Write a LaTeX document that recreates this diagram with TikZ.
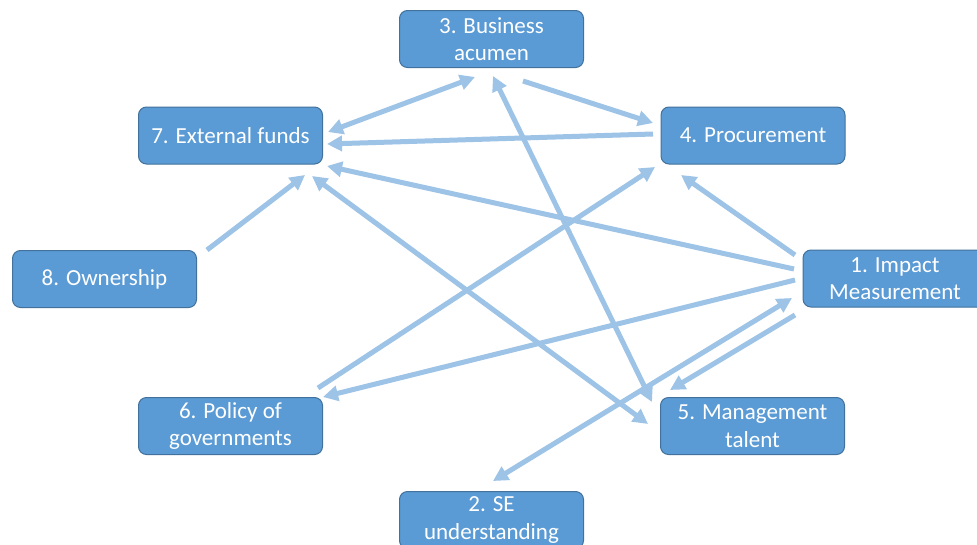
\documentclass[tikz,border=0pt]{standalone}
\usepackage{fontspec}
\setmainfont{Carlito}
\usetikzlibrary{arrows.meta}
\definecolor{boxfill}{HTML}{5B9BD5}
\definecolor{boxline}{HTML}{41719C}
\definecolor{arrowc}{HTML}{9DC3E6}
\begin{document}
\begin{tikzpicture}[x=1pt,y=-1pt,
  box/.style={draw=boxline, line width=1pt, fill=boxfill, rounded corners=8pt,
    minimum width=184pt, minimum height=57pt, inner sep=0pt, align=center,
    text=white, font=\fontsize{23}{27.5}\selectfont},
  link/.style={draw=arrowc, line width=5pt, -{Triangle[length=15pt,width=15pt]}},
  dlink/.style={draw=arrowc, line width=5pt, {Triangle[length=15pt,width=15pt]}-{Triangle[length=15pt,width=15pt]}}]
\useasboundingbox (0,0) rectangle (977,544);
\fill[white] (0,0) rectangle (977,544);
\clip (0,0) rectangle (977,544);
\node[box] (n3) at (491.5,39) {3. Business\\acumen};
\node[box] (n7) at (230.5,135.5) {7. External funds};
\node[box] (n4) at (753,135.5) {4. Procurement};
\node[box] (n8) at (104.5,279) {8. Ownership};
\node[box] (n1) at (895,278.5) {1. Impact\\Measurement};
\node[box] (n6) at (230.5,426) {6. Policy of\\governments};
\node[box] (n5) at (752.5,426) {5. Management\\talent};
\node[box] (n2) at (491.5,520) {2. SE\\understanding};
% connector end points
\coordinate (a1) at ([shift={(-16.5,38)}]n3.center);
\coordinate (a2) at ([shift={(97.5,-3.5)}]n7.center);
\coordinate (b1) at ([shift={(31.5,42)}]n3.center);
\coordinate (b2) at ([shift={(-100,-12.5)}]n4.center);
\coordinate (c1) at ([shift={(-100,-1.5)}]n4.center);
\coordinate (c2) at ([shift={(96.5,8.5)}]n7.center);
\coordinate (d1) at ([shift={(-101,-9.5)}]n1.center);
\coordinate (d2) at ([shift={(96.5,30.5)}]n7.center);
\coordinate (e1) at ([shift={(-104.5,-2)}]n5.center);
\coordinate (e2) at ([shift={(81.5,40.5)}]n7.center);
\coordinate (f1) at ([shift={(102.5,-29)}]n8.center);
\coordinate (f2) at ([shift={(74.5,39.5)}]n7.center);
\coordinate (g1) at ([shift={(87.5,-38)}]n6.center);
\coordinate (g2) at ([shift={(-98,31.5)}]n4.center);
\coordinate (h1) at ([shift={(-100,1.5)}]n1.center);
\coordinate (h2) at ([shift={(92.5,-29)}]n6.center);
\coordinate (i1) at ([shift={(-100,-23.5)}]n1.center);
\coordinate (i2) at ([shift={(-72,39.5)}]n4.center);
\coordinate (j1) at ([shift={(-100.5,-24)}]n5.center);
\coordinate (j2) at ([shift={(1.5,37)}]n3.center);
\coordinate (k1) at ([shift={(-103,19.5)}]n1.center);
\coordinate (k2) at ([shift={(1.5,-39)}]n2.center);
\coordinate (l1) at ([shift={(-100,36.5)}]n1.center);
\coordinate (l2) at ([shift={(-82.5,-36)}]n5.center);
% connectors
\draw[dlink] (a1) -- (a2);
\draw[link] (b1) -- (b2);
\draw[link] (c1) -- (c2);
\draw[link] (d1) -- (d2);
\draw[dlink] (e1) -- (e2);
\draw[link] (f1) -- (f2);
\draw[link] (g1) -- (g2);
\draw[link] (h1) -- (h2);
\draw[link] (i1) -- (i2);
\draw[dlink] (j1) -- (j2);
\draw[dlink] (k1) -- (k2);
\draw[link] (l1) -- (l2);
\end{tikzpicture}
\end{document}
